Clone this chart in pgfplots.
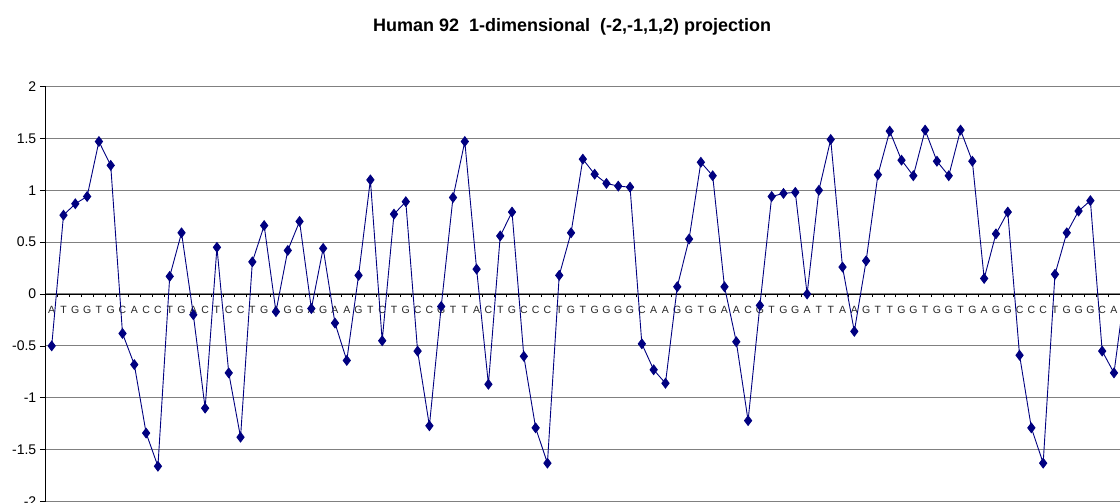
\documentclass[border=0pt]{standalone}
\usepackage{fontspec}
\setmainfont{Liberation Sans}
\usepackage{pgfplots}
\usepackage{pgfplotstable}
\pgfplotsset{compat=1.18}
\definecolor{navy}{RGB}{0,0,128}
\definecolor{gridgray}{RGB}{128,128,128}
\pgfplotstableread{
x y
1 -0.50
2 0.76
3 0.87
4 0.94
5 1.47
6 1.24
7 -0.38
8 -0.68
9 -1.34
10 -1.66
11 0.17
12 0.59
13 -0.20
14 -1.10
15 0.45
16 -0.76
17 -1.38
18 0.31
19 0.66
20 -0.17
21 0.42
22 0.70
23 -0.14
24 0.44
25 -0.28
26 -0.64
27 0.18
28 1.10
29 -0.45
30 0.77
31 0.89
32 -0.55
33 -1.27
34 -0.12
35 0.93
36 1.47
37 0.24
38 -0.87
39 0.56
40 0.79
41 -0.60
42 -1.29
43 -1.63
44 0.18
45 0.59
46 1.30
47 1.155
48 1.066
49 1.04
50 1.03
51 -0.48
52 -0.73
53 -0.86
54 0.07
55 0.53
56 1.27
57 1.14
58 0.07
59 -0.46
60 -1.22
61 -0.11
62 0.94
63 0.97
64 0.98
65 0.00
66 1.00
67 1.49
68 0.26
69 -0.36
70 0.32
71 1.15
72 1.57
73 1.29
74 1.14
75 1.58
76 1.28
77 1.14
78 1.58
79 1.28
80 0.15
81 0.58
82 0.79
83 -0.59
84 -1.29
85 -1.63
86 0.19
87 0.59
88 0.80
89 0.90
90 -0.55
91 -0.76
92 0.10
}\datatable
\begin{document}
\begin{tikzpicture}
\begin{axis}[
  x=11.803pt, y=103.75pt,
  xmin=0.5, xmax=92.5, ymin=-2, ymax=2,
  axis x line*=middle, axis y line*=left,
  axis line style={black, line width=0.8pt},
  ytick={-2,-1.5,...,2},
  ymajorgrids,
  grid style={gridgray, line width=1.1pt},
  tick align=outside,
  major tick length=6pt,
  minor tick length=3pt,
  xtick={1,...,92},
  xticklabels={A,T,G,G,T,G,C,A,C,C,T,G,A,C,T,C,C,T,G,A,G,G,A,G,A,A,G,T,C,T,G,C,C,G,T,T,A,C,T,G,C,C,C,T,G,T,G,G,G,G,C,A,A,G,G,T,G,A,A,C,G,T,G,G,A,T,T,A,A,G,T,T,G,G,T,G,G,T,G,A,G,G,C,C,C,T,G,G,G,C,A,G},
  major x tick style={draw=none},
  minor xtick={0.5,1.5,...,92.5},
  minor x tick style={black, line width=0.6pt},
  ytick style={black, line width=0.8pt},
  xticklabel style={font=\fontsize{10.5}{12}\selectfont, text=black!85, yshift=-3pt},
  yticklabel style={font=\fontsize{14}{16}\selectfont},
  /pgf/number format/assume math mode=true,
  hide obscured y ticks=false,
  hide obscured x ticks=false,
]
\addplot[navy, line width=0.9pt, mark=diamond*, mark size=4.8pt, mark options={solid, fill=navy}] table[x=x, y=y] {\datatable};
\coordinate (BL) at (axis cs:-3.380,-2.005);
\coordinate (TR) at (axis cs:91.51,2.834);
\coordinate (TT) at (axis cs:45.09,2.53);
\end{axis}
\node[anchor=base, font=\bfseries\fontsize{18}{20}\selectfont] at (TT) {Human 92\ \ 1-dimensional\ \ (-2,-1,1,2) projection};
\pgfresetboundingbox
\useasboundingbox (BL) rectangle (TR);
\end{tikzpicture}
\end{document}
